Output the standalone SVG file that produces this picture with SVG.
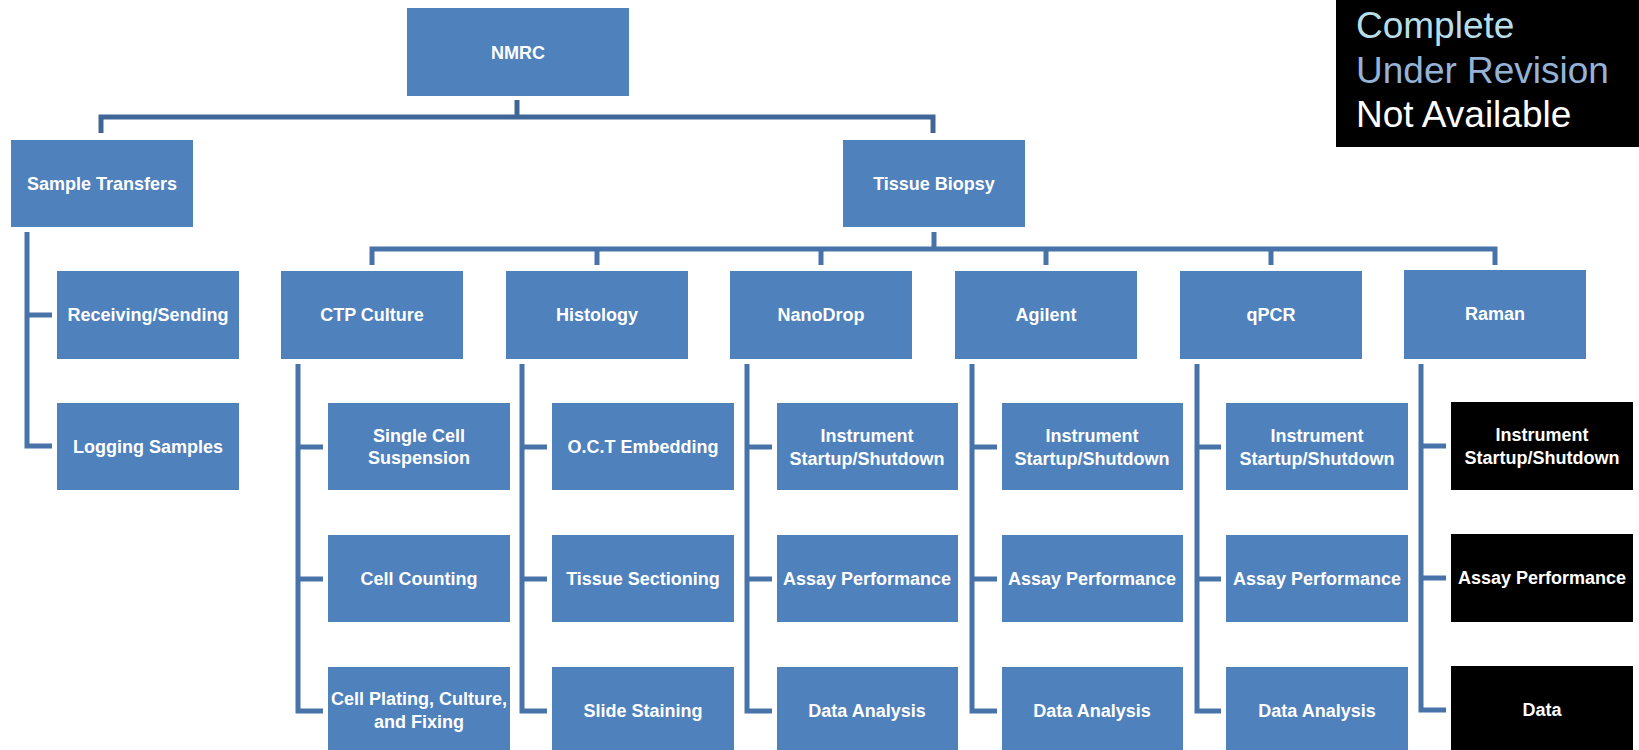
<svg xmlns="http://www.w3.org/2000/svg" width="1639" height="750" viewBox="0 0 1639 750">
<style>
.b{fill:#4f81bd}
.k{fill:#000000}
.t{font-family:"Liberation Sans",Arial,sans-serif;font-weight:bold;font-size:18px;fill:#ffffff;text-anchor:middle}
.c{fill:none;stroke:#4773a9;stroke-width:5;stroke-linejoin:miter;stroke-linecap:butt}
.c0{fill:none;stroke:#3f6696;stroke-width:5;stroke-linejoin:miter}
.lg{font-family:"Liberation Sans",Arial,sans-serif;font-size:37px}
</style>
<rect width="1639" height="750" fill="#ffffff"/>
<g id="connectors">
<path class="c0" d="M517 100V117M101 133V117H933V133"/>
<path class="c" d="M934 232V249M372 265V249H1495V265M597 249V265M821 249V265M1046 249V265M1271 249V265"/>
<path class="c" d="M27 232V446H52M27 315H52"/>
<path class="c" d="M298 364V711H323M298 447H323M298 579H323"/>
<path class="c" d="M522 364V711H547M522 447H547M522 579H547"/>
<path class="c" d="M747 364V711H772M747 447H772M747 579H772"/>
<path class="c" d="M972 364V711H997M972 447H997M972 579H997"/>
<path class="c" d="M1197 364V711H1221M1197 447H1221M1197 579H1221"/>
<path class="c" d="M1421 364V710H1446M1421 446H1446M1421 578H1446"/>
</g>
<g id="legend">
<rect class="k" x="1336" y="0" width="303" height="147"/>
<text class="lg" x="1356" y="38" fill="#b7dee8">Complete</text>
<text class="lg" x="1356" y="83" fill="#95b3d7">Under Revision</text>
<text class="lg" x="1356" y="127" fill="#ffffff">Not Available</text>
</g>
<g id="nmrc"><rect class="b" x="407" y="8" width="222" height="88"/><text class="t" x="518" y="59">NMRC</text></g>
<g id="sample-transfers"><rect class="b" x="11" y="140" width="182" height="87"/><text class="t" x="102" y="190">Sample Transfers</text></g>
<g id="tissue-biopsy"><rect class="b" x="843" y="140" width="182" height="87"/><text class="t" x="934" y="190">Tissue Biopsy</text></g>
<g id="receiving-sending"><rect class="b" x="57" y="271" width="182" height="88"/><text class="t" x="148" y="321">Receiving/Sending</text></g>
<g id="logging-samples"><rect class="b" x="57" y="403" width="182" height="87"/><text class="t" x="148" y="453">Logging Samples</text></g>
<g id="ctp-culture"><rect class="b" x="281" y="271" width="182" height="88"/><text class="t" x="372" y="321">CTP Culture</text></g>
<g id="histology"><rect class="b" x="506" y="271" width="182" height="88"/><text class="t" x="597" y="321">Histology</text></g>
<g id="nanodrop"><rect class="b" x="730" y="271" width="182" height="88"/><text class="t" x="821" y="321">NanoDrop</text></g>
<g id="agilent"><rect class="b" x="955" y="271" width="182" height="88"/><text class="t" x="1046" y="321">Agilent</text></g>
<g id="qpcr"><rect class="b" x="1180" y="271" width="182" height="88"/><text class="t" x="1271" y="321">qPCR</text></g>
<g id="raman"><rect class="b" x="1404" y="270" width="182" height="89"/><text class="t" x="1495" y="320">Raman</text></g>
<g id="single-cell-suspension"><rect class="b" x="328" y="403" width="182" height="87"/><text class="t" x="419" y="442">Single Cell</text><text class="t" x="419" y="464">Suspension</text></g>
<g id="cell-counting"><rect class="b" x="328" y="535" width="182" height="87"/><text class="t" x="419" y="585">Cell Counting</text></g>
<g id="cell-plating"><rect class="b" x="328" y="667" width="182" height="88"/><text class="t" x="419" y="705">Cell Plating, Culture,</text><text class="t" x="419" y="728">and Fixing</text></g>
<g id="oct-embedding"><rect class="b" x="552" y="403" width="182" height="87"/><text class="t" x="643" y="453">O.C.T Embedding</text></g>
<g id="tissue-sectioning"><rect class="b" x="552" y="535" width="182" height="87"/><text class="t" x="643" y="585">Tissue Sectioning</text></g>
<g id="slide-staining"><rect class="b" x="552" y="667" width="182" height="88"/><text class="t" x="643" y="717">Slide Staining</text></g>
<g id="nanodrop-startup"><rect class="b" x="777" y="403" width="181" height="87"/><text class="t" x="867" y="442">Instrument</text><text class="t" x="867" y="465">Startup/Shutdown</text></g>
<g id="nanodrop-assay"><rect class="b" x="777" y="535" width="181" height="87"/><text class="t" x="867" y="585">Assay Performance</text></g>
<g id="nanodrop-data"><rect class="b" x="777" y="667" width="181" height="88"/><text class="t" x="867" y="717">Data Analysis</text></g>
<g id="agilent-startup"><rect class="b" x="1002" y="403" width="181" height="87"/><text class="t" x="1092" y="442">Instrument</text><text class="t" x="1092" y="465">Startup/Shutdown</text></g>
<g id="agilent-assay"><rect class="b" x="1002" y="535" width="181" height="87"/><text class="t" x="1092" y="585">Assay Performance</text></g>
<g id="agilent-data"><rect class="b" x="1002" y="667" width="181" height="88"/><text class="t" x="1092" y="717">Data Analysis</text></g>
<g id="qpcr-startup"><rect class="b" x="1226" y="403" width="182" height="87"/><text class="t" x="1317" y="442">Instrument</text><text class="t" x="1317" y="465">Startup/Shutdown</text></g>
<g id="qpcr-assay"><rect class="b" x="1226" y="535" width="182" height="87"/><text class="t" x="1317" y="585">Assay Performance</text></g>
<g id="qpcr-data"><rect class="b" x="1226" y="667" width="182" height="88"/><text class="t" x="1317" y="717">Data Analysis</text></g>
<g id="raman-startup"><rect class="k" x="1451" y="402" width="182" height="88"/><text class="t" x="1542" y="441">Instrument</text><text class="t" x="1542" y="464">Startup/Shutdown</text></g>
<g id="raman-assay"><rect class="k" x="1451" y="534" width="182" height="88"/><text class="t" x="1542" y="584">Assay Performance</text></g>
<g id="raman-data"><rect class="k" x="1451" y="666" width="182" height="89"/><text class="t" x="1542" y="716">Data</text></g>
</svg>
